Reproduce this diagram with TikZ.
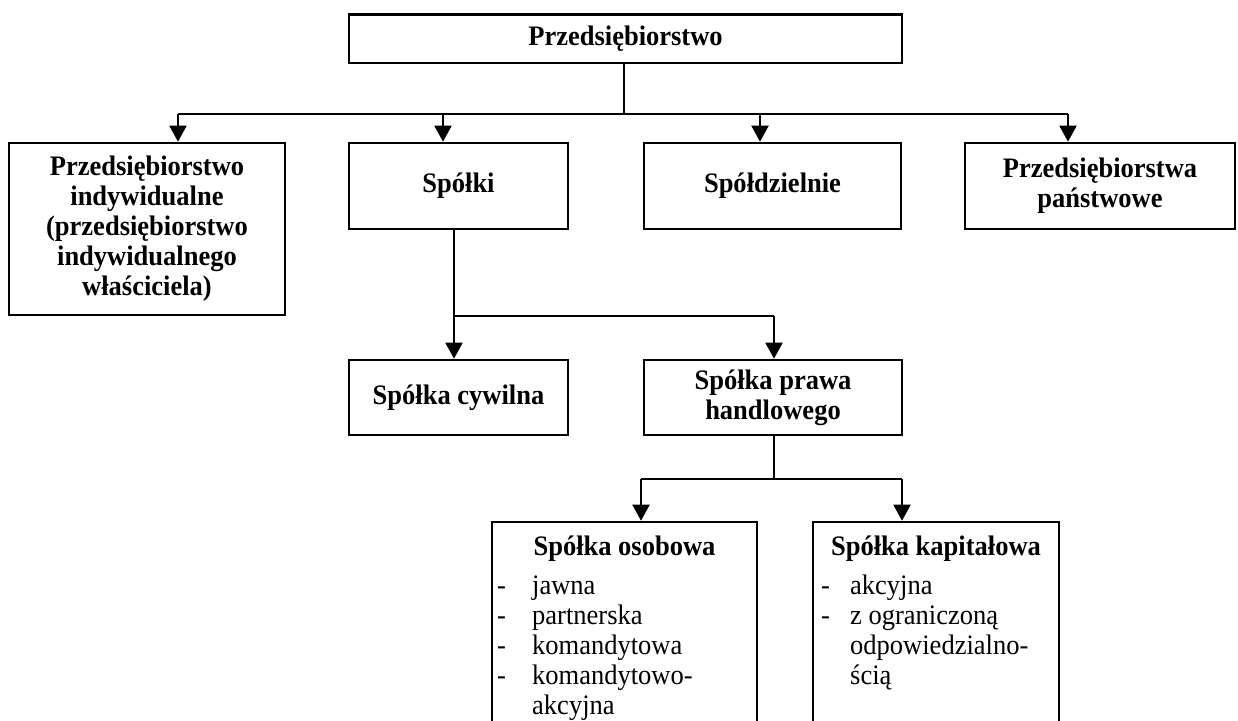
\documentclass[tikz,border=0pt]{standalone}
\usepackage{fontspec}
% Times-like serif, set slightly narrow
\setmainfont{Liberation Serif}[FakeStretch=0.94]
\usetikzlibrary{arrows.meta}
\newcommand{\basefont}{\fontsize{28.2}{30}\selectfont}
\begin{document}
\begin{tikzpicture}[x=1pt,y=-1pt,
  box/.style={draw, line width=2.6pt, inner sep=0pt, align=center, font=\basefont\bfseries},
  conn/.style={line width=2pt},
  arr/.style={conn, -{Triangle[width=17pt,length=16pt]}},
  head/.style={inner sep=0pt, font=\basefont\bfseries},
  list/.style={inner sep=0pt, anchor=base west, font=\basefont}]
\useasboundingbox (0,0) rectangle (1238,720);
\clip (0,0) rectangle (1238,720);

% top level
\node[box, minimum width=553pt, minimum height=48.4pt] (top) at (625.5,38.8) {Przedsiębiorstwo};

% second level
\node[box, minimum width=276pt, minimum height=172pt] (indyw) at (147,229)
  {Przedsiębiorstwo\\indywidualne\\(przedsiębiorstwo\\indywidualnego\\właściciela)};
\node[box, minimum width=219pt, minimum height=86pt] (spolki) at (458.5,186) {Spółki};
\node[box, minimum width=257pt, minimum height=86pt] (spoldz) at (772.5,186) {Spółdzielnie};
\node[box, minimum width=270pt, minimum height=86pt] (panstw) at (1100,186) {Przedsiębiorstwa\\państwowe};

% third level
\node[box, minimum width=219pt, minimum height=75pt] (cywil) at (458.5,397.5) {Spółka cywilna};
\node[box, minimum width=258pt, minimum height=75pt] (handl) at (773,397.5) {Spółka prawa\\handlowego};

% fourth level (boxes run past the lower edge)
\node[box, minimum width=265pt, minimum height=258pt] (osob) at (624.5,651) {};
\node[box, minimum width=246pt, minimum height=258pt] (kapit) at (936,651) {};

\node[head, anchor=base] (osobH) at (624.5,555) {Spółka osobowa};
\node[list] (osobL) at (497,594) {\begin{tabular}[t]{@{}p{35pt}@{}l@{}}
  - & jawna\\
  - & partnerska\\
  - & komandytowa\\
  - & komandytowo-\\
    & akcyjna
\end{tabular}};

\node[head, anchor=base] (kapitH) at (936,555) {Spółka kapitałowa};
\node[list] (kapitL) at (821,594) {\begin{tabular}[t]{@{}p{29pt}@{}l@{}}
  - & akcyjna\\
  - & z ograniczoną\\
    & odpowiedzialno-\\
    & ścią
\end{tabular}};

% connectors: first split
\coordinate (j0) at (624,114);
\coordinate (b1) at (178,114);
\coordinate (b2) at (443,114);
\coordinate (b3) at (760,114);
\coordinate (b4) at (1068,114);
\draw[conn] (top.south -| j0) -- (j0);
\draw[conn] (b1) -- (b4);
\draw[arr] (b1) -- (b1 |- indyw.north);
\draw[arr] (b2) -- (b2 |- spolki.north);
\draw[arr] (b3) -- (b3 |- spoldz.north);
\draw[arr] (b4) -- (b4 |- panstw.north);

% connectors: Spółki split
\coordinate (c1) at (454,316);
\coordinate (c2) at (774,316);
\draw[conn] (spolki.south -| c1) -- (c1) -- (c2);
\draw[arr] (c1) -- (c1 |- cywil.north);
\draw[arr] (c2) -- (c2 |- handl.north);

% connectors: commercial company split
\coordinate (d0) at (774,479);
\coordinate (d1) at (641,479);
\coordinate (d2) at (902,479);
\draw[conn] (handl.south -| d0) -- (d0);
\draw[conn] (d1) -- (d2);
\draw[arr] (d1) -- (d1 |- osob.north);
\draw[arr] (d2) -- (d2 |- kapit.north);
\end{tikzpicture}
\end{document}
